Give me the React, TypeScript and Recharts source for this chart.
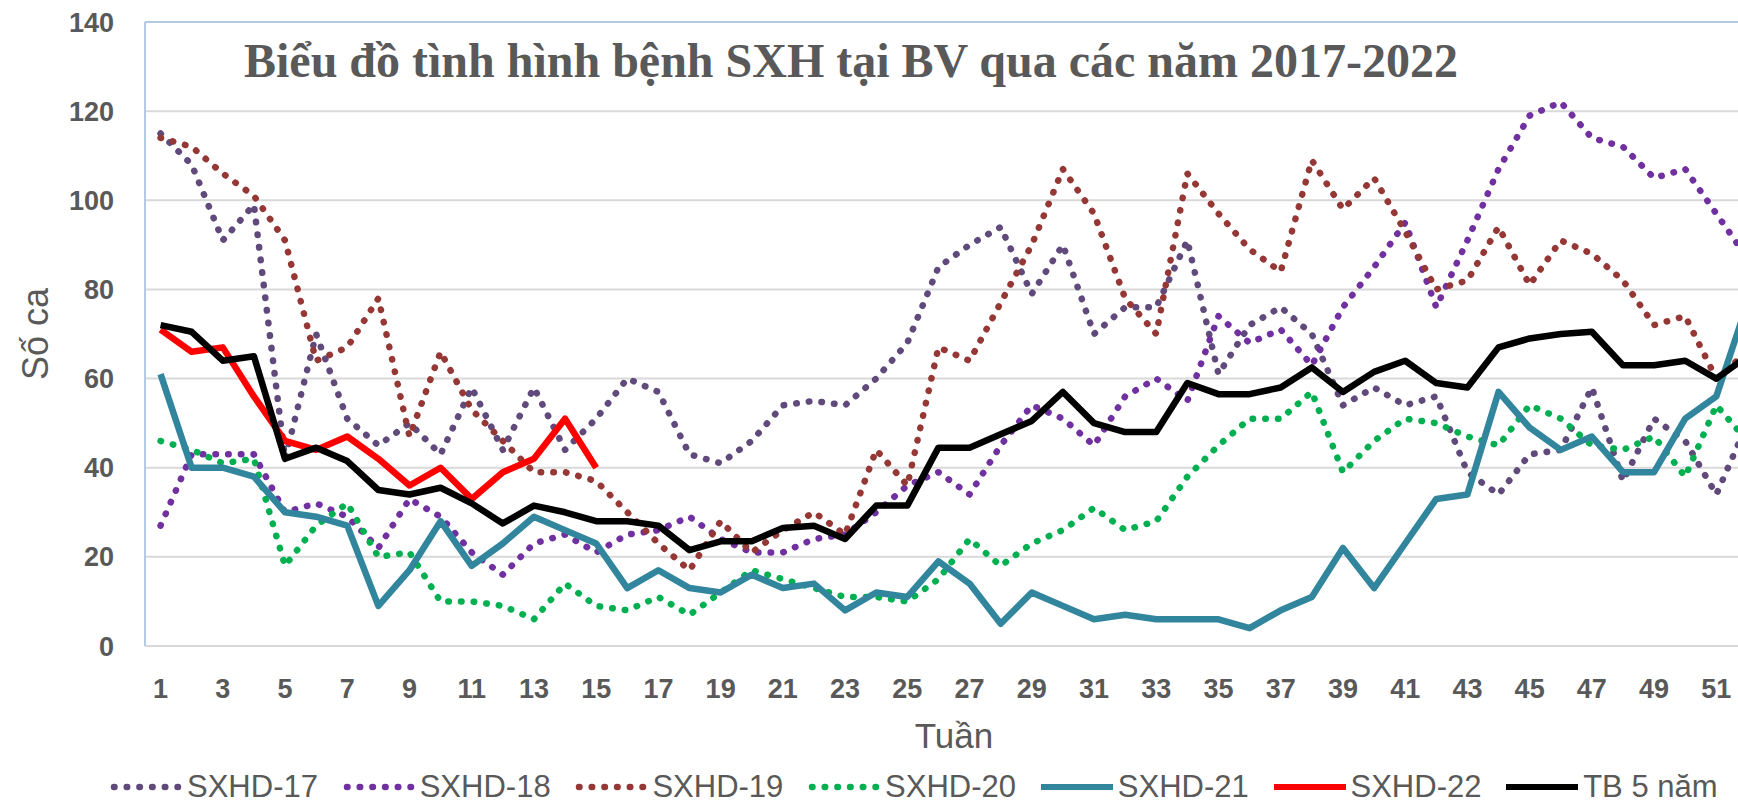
import {
  CartesianGrid,
  Legend,
  Line,
  LineChart,
  ReferenceLine,
  XAxis,
  YAxis,
} from "recharts";

// weeks of the year (Tuần)
const weeks = Array.from({ length: 52 }, (_, i) => i + 1);
const weekTicks = [1, 3, 5, 7, 9, 11, 13, 15, 17, 19, 21, 23, 25, 27, 29, 31, 33, 35, 37, 39, 41, 43, 45, 47, 49, 51];
const caseTicks = [0, 20, 40, 60, 80, 100, 120, 140];

const sxhd17 = [115, 108, 91, 99, 42, 70, 51, 45, 50, 43, 58, 44, 58, 44, 51, 60, 57, 43, 41, 46, 54, 55, 54, 60, 68, 85, 90, 94, 79, 90, 70, 76, 76, 91, 61, 72, 76, 70, 54, 58, 54, 56, 39, 34, 43, 44, 58, 37, 51, 46, 34, 50];
const sxhd18 = [27, 43, 43, 43, 30, 32, 29, 22, 33, 29, 21, 16, 23, 25, 21, 25, 26, 29, 24, 21, 21, 24, 25, 30, 36, 39, 34, 45, 54, 51, 45, 56, 60, 55, 74, 68, 71, 63, 76, 85, 95, 76, 91, 107, 119, 122, 114, 112, 105, 107, 97, 87];
const sxhd19 = [114, 112, 106, 101, 91, 64, 67, 78, 47, 66, 53, 46, 39, 39, 37, 30, 23, 17, 28, 21, 26, 30, 25, 44, 36, 67, 64, 77, 90, 107, 97, 78, 70, 106, 97, 89, 84, 109, 98, 105, 93, 80, 82, 94, 81, 91, 88, 82, 72, 74, 60, 66];
const sxhd20 = [46, 44, 41, 42, 18, 27, 32, 20, 21, 10, 10, 9, 6, 14, 9, 8, 11, 7, 12, 17, 15, 13, 11, 11, 10, 15, 24, 18, 23, 26, 31, 26, 28, 38, 45, 51, 51, 57, 39, 46, 51, 50, 47, 45, 54, 51, 45, 44, 47, 38, 54, 46];
const sxhd21 = [61, 40, 40, 38, 30, 29, 27, 9, 17, 28, 18, 23, 29, 26, 23, 13, 17, 13, 12, 16, 13, 14, 8, 12, 11, 19, 14, 5, 12, 9, 6, 7, 6, 6, 6, 4, 8, 11, 22, 13, 23, 33, 34, 57, 49, 44, 47, 39, 39, 51, 56, 77];
const sxhd22 = [71, 66, 67, 56, 46, 44, 47, 42, 36, 40, 33, 39, 42, 51, 40];
const tb5nam = [72, 70.5, 64, 65, 42, 44.5, 41.5, 35, 34, 35.5, 32, 27.5, 31.5, 30, 28, 28, 27, 21.5, 23.5, 23.5, 26.5, 27, 24, 31.5, 31.5, 44.5, 44.5, 47.5, 50.5, 57, 50, 48, 48, 59, 56.5, 56.5, 58, 62.5, 57, 61.5, 64, 59, 58, 67, 69, 70, 70.5, 63, 63, 64, 60, 65];

const series = [
  { key: "s17", name: "SXHD-17", color: "#604A7B", dotted: true, values: sxhd17 },
  { key: "s18", name: "SXHD-18", color: "#7030A0", dotted: true, values: sxhd18 },
  { key: "s19", name: "SXHD-19", color: "#953735", dotted: true, values: sxhd19 },
  { key: "s20", name: "SXHD-20", color: "#00B050", dotted: true, values: sxhd20 },
  { key: "s21", name: "SXHD-21", color: "#31859C", dotted: false, values: sxhd21 },
  { key: "s22", name: "SXHD-22", color: "#FF0000", dotted: false, values: sxhd22 },
  { key: "tb", name: "TB 5 năm", color: "#000000", dotted: false, values: tb5nam },
];

const data = weeks.map((week, i) => {
  const row: Record<string, number | undefined> = { week };
  series.forEach((s) => {
    row[s.key] = s.values[i];
  });
  return row;
});

const TEXT = "#595959";
const DOTS = "0.5 12.2";

function ChartLegend() {
  return (
    <div style={{ position: "relative", height: 40, width: "100%" }}>
      {series.map((s, i) => (
        <div
          key={s.key}
          style={{
            position: "absolute",
            left: 110 + i * 232.7,
            top: 4,
            height: 32,
            display: "flex",
            alignItems: "center",
            whiteSpace: "nowrap",
          }}
        >
          <svg width={72} height={12} style={{ marginRight: 5 }}>
            {s.dotted ? (
              <line x1={4} y1={6} x2={69} y2={6} stroke={s.color} strokeWidth={6.5} strokeDasharray={DOTS} strokeLinecap="round" />
            ) : (
              <line x1={0} y1={6} x2={72} y2={6} stroke={s.color} strokeWidth={6} />
            )}
          </svg>
          <span style={{ fontSize: 31, color: TEXT, lineHeight: "32px" }}>{s.name}</span>
        </div>
      ))}
    </div>
  );
}

export default function App() {
  return (
    <div
      style={{
        position: "fixed",
        left: 0,
        top: 0,
        width: 1738,
        height: 807,
        overflow: "hidden",
        background: "#fff",
        fontFamily: "'Liberation Sans', Arial, sans-serif",
      }}
    >
      <LineChart width={1780} height={807} data={data} margin={{ top: 22, right: 17, bottom: 0, left: 0 }}>
        <CartesianGrid vertical={false} stroke="#D9D9D9" strokeWidth={2} />
        <XAxis
          dataKey="week"
          type="number"
          domain={[0.5, 52.5]}
          ticks={weekTicks}
          interval={0}
          height={121}
          axisLine={false}
          tickLine={false}
          tickSize={0}
          tickMargin={33}
          tick={{ fill: TEXT, fontSize: 27, fontWeight: "bold" }}
          label={{ value: "Tuần", position: "insideBottom", offset: 19, fill: TEXT, fontSize: 35 }}
        />
        <YAxis
          domain={[0, 140]}
          ticks={caseTicks}
          width={145}
          axisLine={false}
          tickLine={false}
          tickSize={0}
          tickMargin={31}
          tick={{ fill: TEXT, fontSize: 27, fontWeight: "bold" }}
          label={{
            value: "Số ca",
            angle: -90,
            position: "insideLeft",
            offset: 35,
            fill: TEXT,
            fontSize: 36,
            style: { textAnchor: "middle" },
          }}
        />
        <ReferenceLine x={0.5} stroke="#B4C9E3" strokeWidth={2} />
        <ReferenceLine y={140} stroke="#B4C9E3" strokeWidth={2} />
        <Legend verticalAlign="bottom" content={<ChartLegend />} />

        {series.map((s) => (
          <Line
            key={s.key}
            type="linear"
            dataKey={s.key}
            name={s.name}
            stroke={s.color}
            strokeWidth={6.5}
            strokeDasharray={s.dotted ? DOTS : undefined}
            strokeLinecap={s.dotted ? "round" : "butt"}
            strokeLinejoin="round"
            dot={false}
            activeDot={false}
            isAnimationActive={false}
          />
        ))}
      </LineChart>

      <div
        style={{
          position: "absolute",
          left: 0,
          top: 37,
          width: 1702,
          textAlign: "center",
          fontFamily: "'Liberation Serif', 'Times New Roman', serif",
          fontWeight: "bold",
          fontSize: 48,
          lineHeight: "47px",
          color: TEXT,
          whiteSpace: "nowrap",
        }}
      >
        Biểu đồ tình hình bệnh SXH tại BV qua các năm 2017-2022
      </div>
    </div>
  );
}
